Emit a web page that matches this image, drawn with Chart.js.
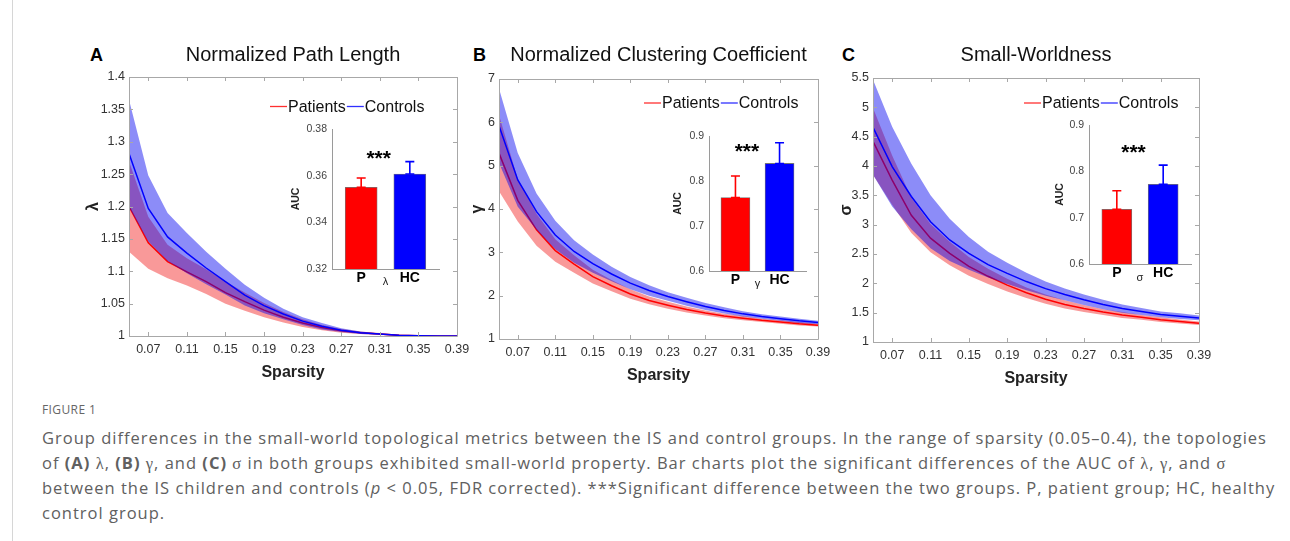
<!DOCTYPE html>
<html>
<head>
<meta charset="utf-8">
<script src="https://cdn.jsdelivr.net/npm/chart.js@4.4.1/dist/chart.umd.min.js"></script>
<style>
  html, body { margin: 0; padding: 0; background: #fff; }
  body { width: 1290px; height: 541px; position: relative; overflow: hidden; font-family: 'Liberation Sans', Arial, sans-serif; }
  canvas { position: absolute; }
  .letter { position: absolute; font: bold 18px 'Liberation Sans', Arial, sans-serif; color: #000; line-height: 18px; }
  .rule { position: absolute; left: 12px; top: 0; width: 1px; height: 541px; background: #d6d6d6; }
  #figlabel { position: absolute; left: 42px; top: 402px; font: 12px 'Open Sans', sans-serif; color: #666; letter-spacing: 0.4px; line-height: 16px; }
  #caption { position: absolute; left: 42px; top: 426px; font: 16.5px 'Open Sans', sans-serif; color: #606060; letter-spacing: 1px; line-height: 24.5px; white-space: nowrap; }
  #caption .g { font-family: 'Liberation Serif', serif; }
</style>
</head>
<body>
<div class="rule"></div>
<div class="letter" style="left:90px;top:46px">A</div>
<div class="letter" style="left:473px;top:46px">B</div>
<div class="letter" style="left:842px;top:46px">C</div>
<canvas id="chart-a"></canvas>
<canvas id="chart-b"></canvas>
<canvas id="chart-c"></canvas>
<canvas id="inset-a"></canvas>
<canvas id="inset-b"></canvas>
<canvas id="inset-c"></canvas>
<div id="figlabel">FIGURE 1</div>
<div id="caption">Group differences in the small-world topological metrics between the IS and control groups. In the range of sparsity (0.05–0.4), the topologies<br>of <b>(A)</b> <span class="g">λ</span>, <b>(B)</b> <span class="g">γ</span>, and <b>(C)</b> <span class="g">σ</span> in both groups exhibited small-world property. Bar charts plot the significant differences of the AUC of <span class="g">λ</span>, <span class="g">γ</span>, and <span class="g">σ</span><br>between the IS children and controls (<i>p</i> &lt; 0.05, FDR corrected). ***Significant difference between the two groups. P, patient group; HC, healthy<br>control group.</div>

<script>
var sparsity = [0.05, 0.07, 0.09, 0.11, 0.13, 0.15, 0.17, 0.19, 0.21, 0.23, 0.25, 0.27, 0.29, 0.31, 0.33, 0.35, 0.37, 0.39];
var xTicks = [0.07, 0.11, 0.15, 0.19, 0.23, 0.27, 0.31, 0.35, 0.39];

var lambdaPatients = [1.2, 1.144, 1.115, 1.099, 1.084, 1.067, 1.053, 1.04, 1.029, 1.02, 1.013, 1.008, 1.005, 1.003, 1.001, 1.0005, 1.0, 1.0];
var lambdaPatientsSd = [0.07, 0.04, 0.026, 0.021, 0.019, 0.017, 0.014, 0.011, 0.008, 0.006, 0.004, 0.003, 0.002, 0.0015, 0.001, 0.0005, 0.0002, 0.0001];
var lambdaControls = [1.282, 1.197, 1.153, 1.128, 1.105, 1.084, 1.063, 1.047, 1.034, 1.023, 1.015, 1.009, 1.005, 1.003, 1.001, 1.0005, 1.0, 1.0];
var lambdaControlsSd = [0.083, 0.051, 0.037, 0.031, 0.025, 0.02, 0.016, 0.012, 0.008, 0.006, 0.005, 0.003, 0.002, 0.001, 0.0005, 0.0003, 0.0002, 0.0001];

var gammaPatients = [5.29, 4.2, 3.52, 3.04, 2.73, 2.44, 2.23, 2.04, 1.89, 1.78, 1.68, 1.6, 1.53, 1.48, 1.43, 1.39, 1.35, 1.32];
var gammaPatientsSd = [0.88, 0.49, 0.37, 0.26, 0.2, 0.16, 0.13, 0.11, 0.09, 0.08, 0.07, 0.06, 0.05, 0.05, 0.04, 0.04, 0.04, 0.03];
var gammaControls = [5.92, 4.67, 3.94, 3.4, 3.02, 2.74, 2.5, 2.29, 2.12, 1.98, 1.86, 1.75, 1.66, 1.58, 1.52, 1.47, 1.42, 1.38];
var gammaControlsSd = [0.86, 0.62, 0.42, 0.33, 0.26, 0.21, 0.17, 0.14, 0.12, 0.1, 0.09, 0.08, 0.07, 0.06, 0.05, 0.05, 0.05, 0.04];

var sigmaPatients = [4.42, 3.76, 3.16, 2.77, 2.51, 2.29, 2.12, 1.97, 1.84, 1.73, 1.64, 1.57, 1.51, 1.46, 1.42, 1.38, 1.35, 1.32];
var sigmaPatientsSd = [0.57, 0.42, 0.3, 0.24, 0.2, 0.16, 0.13, 0.11, 0.09, 0.08, 0.07, 0.06, 0.05, 0.05, 0.04, 0.04, 0.035, 0.03];
var sigmaControls = [4.66, 3.99, 3.48, 3.05, 2.74, 2.51, 2.32, 2.17, 2.03, 1.91, 1.81, 1.72, 1.64, 1.57, 1.52, 1.47, 1.44, 1.41];
var sigmaControlsSd = [0.81, 0.68, 0.56, 0.45, 0.36, 0.28, 0.22, 0.18, 0.15, 0.12, 0.1, 0.09, 0.08, 0.07, 0.06, 0.05, 0.05, 0.04];

var groupNames = ['Patients', 'Controls'];
var aucLabels = ['P', 'HC'];
var aucLambda = [0.355, 0.3607];
var aucLambdaErr = [0.004, 0.0053];
var aucGamma = [0.763, 0.839];
var aucGammaErr = [0.048, 0.046];
var aucSigma = [0.718, 0.772];
var aucSigmaErr = [0.04, 0.0415];

var RED = '#ff0000';
var BLUE = '#0000ff';
var RED_BAND = 'rgba(240, 0, 0, 0.4)';
var BLUE_BAND = 'rgba(0, 0, 240, 0.45)';
var FONT = "'Liberation Sans', Arial, sans-serif";
var TICK = '#333';

function pts(ys) {
  return sparsity.map(function (x, i) {
    return { x: x, y: ys[i] };
  });
}

function band(label, mean, sd, color, fillColor, order) {
  var upper = mean.map(function (m, i) { return m + sd[i]; });
  var lower = mean.map(function (m, i) { return m - sd[i]; });
  return [
    { label: label, data: pts(mean), borderColor: color, borderWidth: 1.5, order: order },
    { label: label + ' +sd', data: pts(upper), borderColor: 'rgba(0,0,0,0)', borderWidth: 0, backgroundColor: fillColor, fill: '+1', order: order + 1 },
    { label: label + ' -sd', data: pts(lower), borderColor: 'rgba(0,0,0,0)', borderWidth: 0, fill: false, order: order + 1 },
  ];
}

function fmt(v) {
  return String(Number(Number(v).toFixed(3)));
}

// box with inward ticks on every side, like the original figure
function framePlugin(tickLen) {
  return {
    id: 'frame',
    afterDatasetsDraw: function (chart) {
      var a = chart.chartArea, ctx = chart.ctx;
      var xs = chart.scales.x, ys = chart.scales.y;
      ctx.save();
      ctx.strokeStyle = '#a8a8a8';
      ctx.lineWidth = 1;
      ctx.beginPath();
      ctx.rect(Math.round(a.left) + 0.5, Math.round(a.top) + 0.5, Math.round(a.right - a.left), Math.round(a.bottom - a.top));
      xs.ticks.forEach(function (t) {
        var px = Math.round(xs.getPixelForValue(t.value)) + 0.5;
        ctx.moveTo(px, a.bottom); ctx.lineTo(px, a.bottom - tickLen);
        ctx.moveTo(px, a.top); ctx.lineTo(px, a.top + tickLen);
      });
      ys.ticks.forEach(function (t) {
        var py = Math.round(ys.getPixelForValue(t.value)) + 0.5;
        ctx.moveTo(a.left, py); ctx.lineTo(a.left + tickLen, py);
        ctx.moveTo(a.right, py); ctx.lineTo(a.right - tickLen, py);
      });
      ctx.stroke();
      ctx.restore();
    },
  };
}

function legendPlugin(offRight, offTop) {
  return {
    id: 'inLegend',
    afterDraw: function (chart) {
      var a = chart.chartArea, ctx = chart.ctx;
      var x = a.right - offRight, y = a.top + offTop;
      var cols = ['#ff3030', '#3030ff'];
      ctx.save();
      ctx.font = '16px ' + FONT;
      ctx.textBaseline = 'middle';
      ctx.fillStyle = '#111';
      groupNames.forEach(function (name, i) {
        ctx.strokeStyle = cols[i];
        ctx.lineWidth = 1.3;
        ctx.beginPath();
        ctx.moveTo(x, y); ctx.lineTo(x + 17, y);
        ctx.stroke();
        x += 18;
        ctx.fillText(name, x, y + 1);
        x += ctx.measureText(name).width + 1;
      });
      ctx.restore();
    },
  };
}

function mainChart(id, p) {
  var yw = 69, xh = 49, padR = 43, top = 40;
  var el = document.getElementById(id);
  el.style.left = (p.area.l - yw) + 'px';
  el.style.top = top + 'px';
  el.width = p.area.r - p.area.l + yw + padR;
  el.height = p.area.b - top + xh;
  var datasets = band(groupNames[1], p.controls, p.controlsSd, BLUE, BLUE_BAND, 0)
    .concat(band(groupNames[0], p.patients, p.patientsSd, RED, RED_BAND, 2));

  new Chart(el, {
    type: 'line',
    data: { datasets: datasets },
    plugins: [framePlugin(4), legendPlugin(p.legend[0], p.legend[1])],
    options: {
      responsive: false,
      animation: false,
      events: [],
      layout: { padding: { left: 0, right: padR, top: 0, bottom: 0 } },
      elements: { point: { radius: 0 }, line: { tension: 0 } },
      plugins: {
        legend: { display: false },
        tooltip: { enabled: false },
        title: {
          display: true,
          text: p.title,
          fullSize: false,
          color: '#111',
          font: { family: FONT, size: 20, weight: 'normal' },
          padding: { top: 3.6, bottom: p.area.t - top - 3.6 - 24 },
        },
      },
      scales: {
        x: {
          type: 'linear',
          min: sparsity[0],
          max: sparsity[sparsity.length - 1],
          grid: { display: false, drawTicks: false },
          border: { display: false },
          afterBuildTicks: function (s) {
            s.ticks = xTicks.map(function (v) { return { value: v }; });
          },
          afterFit: function (s) {
            s.height = xh; s.paddingLeft = 0; s.paddingRight = 0;
          },
          ticks: {
            color: TICK, padding: 6, maxRotation: 0, autoSkip: false,
            font: { family: FONT, size: 12.5 },
            callback: function (v) { return Number(v).toFixed(2); },
          },
          title: {
            display: true, text: 'Sparsity', color: '#222',
            font: { family: FONT, size: 16, weight: 'bold' },
            padding: { top: 0, bottom: 3.3 },
          },
        },
        y: {
          min: p.yMin, max: p.yMax,
          grid: { display: false, drawTicks: false },
          border: { display: false },
          afterFit: function (s) {
            s.width = yw; s.paddingTop = 0; s.paddingBottom = 0;
          },
          ticks: {
            stepSize: p.yStep, color: TICK, padding: 4,
            font: { family: FONT, size: 12.5 },
            callback: fmt,
          },
          title: {
            display: true, text: p.yLabel, color: '#222',
            font: { family: FONT, size: 16, weight: 'bold' },
            padding: { top: p.yTitlePad, bottom: 0 },
          },
        },
      },
    },
  });
}

function errorPlugin(errs, star) {
  return {
    id: 'errbars',
    afterDatasetsDraw: function (chart) {
      var ctx = chart.ctx, ys = chart.scales.y, xs = chart.scales.x;
      var ds = chart.data.datasets[0];
      var meta = chart.getDatasetMeta(0);
      ctx.save();
      meta.data.forEach(function (bar, i) {
        var yTop = ys.getPixelForValue(ds.data[i].y + errs[i]);
        ctx.strokeStyle = ds.backgroundColor[i];
        ctx.lineWidth = 1.6;
        ctx.beginPath();
        ctx.moveTo(bar.x, bar.y); ctx.lineTo(bar.x, yTop);
        ctx.moveTo(bar.x - 4.5, yTop); ctx.lineTo(bar.x + 4.5, yTop);
        ctx.moveTo(bar.x - 4.5, bar.y); ctx.lineTo(bar.x + 4.5, bar.y);
        ctx.stroke();
      });
      ctx.fillStyle = '#000';
      ctx.font = 'bold 21px ' + FONT;
      ctx.textAlign = 'center';
      ctx.textBaseline = 'alphabetic';
      ctx.fillText('***', xs.getPixelForValue(star[0]), ys.getPixelForValue(star[1]) + 11);
      ctx.restore();
    },
  };
}

function insetChart(id, p) {
  var yw = 45, xh = 26, padT = 12, padR = 6;
  var el = document.getElementById(id);
  el.style.left = (p.area.l - yw) + 'px';
  el.style.top = (p.area.t - padT) + 'px';
  el.width = p.area.r - p.area.l + yw + padR;
  el.height = p.area.b - p.area.t + padT + xh;

  new Chart(el, {
    type: 'bar',
    data: {
      datasets: [{
        data: p.values.map(function (v, i) { return { x: i + 1, y: v }; }),
        backgroundColor: [RED, BLUE],
        borderColor: 'rgba(60,60,60,0.7)',
        borderWidth: 0.8,
        barThickness: p.barWidth,
      }],
    },
    plugins: [errorPlugin(p.errors, p.star)],
    options: {
      responsive: false,
      animation: false,
      events: [],
      layout: { padding: { left: 0, right: padR, top: padT, bottom: 0 } },
      plugins: { legend: { display: false }, tooltip: { enabled: false } },
      scales: {
        x: {
          type: 'linear', min: 0.4, max: 2.6, offset: false,
          grid: { display: false, drawTicks: false, offset: false },
          border: { display: true, color: '#9a9a9a', width: 1 },
          afterBuildTicks: function (s) {
            s.ticks = aucLabels.map(function (n, i) { return { value: i + 1 }; });
          },
          afterFit: function (s) {
            s.height = xh; s.paddingLeft = 0; s.paddingRight = 0;
          },
          ticks: {
            color: '#000', padding: 1, autoSkip: false, maxRotation: 0,
            font: { family: FONT, size: 14, weight: 'bold' },
            callback: function (v) { return aucLabels[Math.round(v) - 1]; },
          },
          title: {
            display: true, text: p.xLabel, color: '#222',
            font: { family: FONT, size: 11 },
            padding: { top: 0, bottom: p.xTitlePad },
          },
        },
        y: {
          min: p.yMin, max: p.yMax,
          grid: { display: false, drawTicks: false },
          border: { display: true, color: '#9a9a9a', width: 1 },
          afterFit: function (s) {
            s.width = yw; s.paddingTop = 0; s.paddingBottom = 0;
          },
          ticks: {
            stepSize: p.yStep, color: '#444', padding: 5,
            font: { family: FONT, size: 10.5 },
            callback: fmt,
          },
          title: {
            display: true, text: 'AUC', color: '#222',
            font: { family: FONT, size: 10.5, weight: 'bold' },
            padding: { top: p.yTitlePad, bottom: 0 },
          },
        },
      },
    },
  });
}

mainChart('chart-a', {
  area: { l: 129, r: 457, t: 77, b: 336 },
  title: 'Normalized Path Length', yLabel: 'λ', yTitlePad: 24.4,
  yMin: 1, yMax: 1.4, yStep: 0.05, legend: [187, 29.5],
  patients: lambdaPatients, patientsSd: lambdaPatientsSd,
  controls: lambdaControls, controlsSd: lambdaControlsSd,
});
mainChart('chart-b', {
  area: { l: 499, r: 818, t: 79, b: 339 },
  title: 'Normalized Clustering Coefficient', yLabel: 'γ', yTitlePad: 38.4,
  yMin: 1, yMax: 7, yStep: 1, legend: [174, 24],
  patients: gammaPatients, patientsSd: gammaPatientsSd,
  controls: gammaControls, controlsSd: gammaControlsSd,
});
mainChart('chart-c', {
  area: { l: 873, r: 1199, t: 78, b: 342 },
  title: 'Small-Worldness', yLabel: 'σ', yTitlePad: 32.9,
  yMin: 1, yMax: 5.5, yStep: 0.5, legend: [175, 25],
  patients: sigmaPatients, patientsSd: sigmaPatientsSd,
  controls: sigmaControls, controlsSd: sigmaControlsSd,
});

insetChart('inset-a', {
  area: { l: 332, r: 439, t: 129, b: 269 },
  values: aucLambda, errors: aucLambdaErr, star: [1.36, 0.3693], barWidth: 32,
  yMin: 0.32, yMax: 0.38, yStep: 0.02, xLabel: 'λ', xTitlePad: 6, yTitlePad: 2.8,
});
insetChart('inset-b', {
  area: { l: 709, r: 806, t: 136, b: 271 },
  values: aucGamma, errors: aucGammaErr, star: [1.26, 0.875], barWidth: 29,
  yMin: 0.6, yMax: 0.9, yStep: 0.1, xLabel: 'γ', xTitlePad: 6, yTitlePad: 7.4,
});
insetChart('inset-c', {
  area: { l: 1089, r: 1191, t: 125, b: 264 },
  values: aucSigma, errors: aucSigmaErr, star: [1.36, 0.85], barWidth: 30,
  yMin: 0.6, yMax: 0.9, yStep: 0.1, xLabel: 'σ', xTitlePad: 5, yTitlePad: 9.5,
});
</script>
</body>
</html>
